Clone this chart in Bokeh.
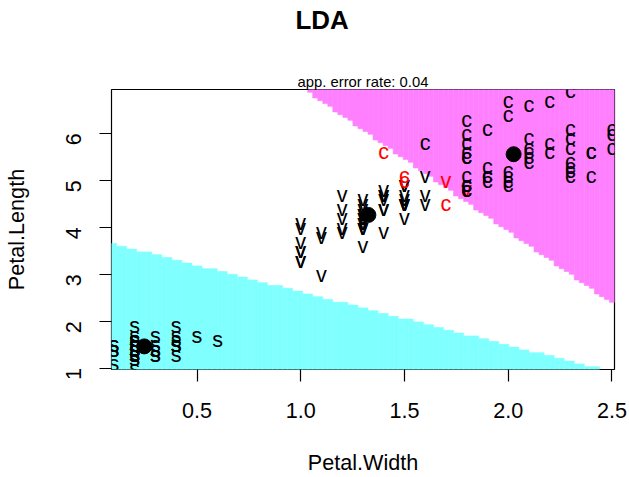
import numpy as np
from math import pi
from bokeh.plotting import figure
from bokeh.models import FixedTicker, Range1d, ColumnDataSource, NumeralTickFormatter, Title
from bokeh.embed import file_html
from bokeh.resources import INLINE
from bokeh.core.properties import value

# ---------------- data (iris petals) ----------------
class_letters = ["s", "v", "c"]
region_colors = ["#80FFFF", "#FFFFFF", "#FF80FF"]

setosa_width = [0.2, 0.2, 0.2, 0.2, 0.2, 0.4, 0.3, 0.2, 0.2, 0.1,
                0.2, 0.2, 0.1, 0.1, 0.2, 0.4, 0.4, 0.3, 0.3, 0.3,
                0.2, 0.4, 0.2, 0.5, 0.2, 0.2, 0.4, 0.2, 0.2, 0.2,
                0.2, 0.4, 0.1, 0.2, 0.2, 0.2, 0.2, 0.1, 0.2, 0.2,
                0.3, 0.3, 0.2, 0.6, 0.4, 0.3, 0.2, 0.2, 0.2, 0.2]
setosa_length = [1.4, 1.4, 1.3, 1.5, 1.4, 1.7, 1.4, 1.5, 1.4, 1.5,
                 1.5, 1.6, 1.4, 1.1, 1.2, 1.5, 1.3, 1.4, 1.7, 1.5,
                 1.7, 1.5, 1.0, 1.7, 1.9, 1.6, 1.6, 1.5, 1.4, 1.6,
                 1.6, 1.5, 1.5, 1.4, 1.5, 1.2, 1.3, 1.4, 1.3, 1.5,
                 1.3, 1.3, 1.3, 1.6, 1.9, 1.4, 1.6, 1.4, 1.5, 1.4]
versicolor_width = [1.4, 1.5, 1.5, 1.3, 1.5, 1.3, 1.6, 1.0, 1.3, 1.4,
                    1.0, 1.5, 1.0, 1.4, 1.3, 1.4, 1.5, 1.0, 1.5, 1.1,
                    1.8, 1.3, 1.5, 1.2, 1.3, 1.4, 1.4, 1.7, 1.5, 1.0,
                    1.1, 1.0, 1.2, 1.6, 1.5, 1.6, 1.5, 1.3, 1.3, 1.3,
                    1.2, 1.4, 1.2, 1.0, 1.3, 1.2, 1.3, 1.3, 1.1, 1.3]
versicolor_length = [4.7, 4.5, 4.9, 4.0, 4.6, 4.5, 4.7, 3.3, 4.6, 3.9,
                     3.5, 4.2, 4.0, 4.7, 3.6, 4.4, 4.5, 4.1, 4.5, 3.9,
                     4.8, 4.0, 4.9, 4.7, 4.3, 4.4, 4.8, 5.0, 4.5, 3.5,
                     3.8, 3.7, 3.9, 5.1, 4.5, 4.5, 4.7, 4.4, 4.1, 4.0,
                     4.4, 4.6, 4.0, 3.3, 4.2, 4.2, 4.2, 4.3, 3.0, 4.1]
virginica_width = [2.5, 1.9, 2.1, 1.8, 2.2, 2.1, 1.7, 1.8, 1.8, 2.5,
                   2.0, 1.9, 2.1, 2.0, 2.4, 2.3, 1.8, 2.2, 2.3, 1.5,
                   2.3, 2.0, 2.0, 1.8, 2.1, 1.8, 1.8, 1.8, 2.1, 1.6,
                   1.9, 2.0, 2.2, 1.5, 1.4, 2.3, 2.4, 1.8, 1.8, 2.1,
                   2.4, 2.3, 1.9, 2.3, 2.5, 2.3, 1.9, 2.0, 2.3, 1.8]
virginica_length = [6.0, 5.1, 5.9, 5.6, 5.8, 6.6, 4.5, 6.3, 5.8, 6.1,
                    5.1, 5.3, 5.5, 5.0, 5.1, 5.3, 5.5, 6.7, 6.9, 5.0,
                    5.7, 4.9, 6.7, 4.9, 5.7, 6.0, 4.8, 4.9, 5.6, 5.8,
                    6.1, 6.4, 5.6, 5.1, 5.6, 6.1, 5.6, 5.5, 4.8, 5.4,
                    5.6, 5.1, 5.1, 5.9, 5.7, 5.2, 5.0, 5.2, 5.4, 5.1]

x_ticks = [0.5, 1.0, 1.5, 2.0, 2.5]
y_ticks = [1, 2, 3, 4, 5, 6]
main_title = "LDA"
sub_title = "app. error rate: 0.04"
x_title = "Petal.Width"
y_title = "Petal.Length"

# ---------------- LDA (pooled covariance, equal priors) ----------------
groups = [(setosa_width, setosa_length),
          (versicolor_width, versicolor_length),
          (virginica_width, virginica_length)]
Xs = [np.column_stack([np.array(w), np.array(l)]) for w, l in groups]
X = np.vstack(Xs)
y = np.concatenate([np.full(len(g), k) for k, g in enumerate(Xs)])
means = np.array([g.mean(axis=0) for g in Xs])
S = sum((g - m).T @ (g - m) for g, m in zip(Xs, means)) / (len(X) - len(Xs))
Sinv = np.linalg.inv(S)
priors = np.array([len(g) for g in Xs]) / len(X)


def predict(P):
    scores = P @ Sinv @ means.T - 0.5 * np.sum(means @ Sinv * means, axis=1) + np.log(priors)
    return np.argmax(scores, axis=1)


pred = predict(X)
wrong = pred != y

prec = 100
xg = np.linspace(X[:, 0].min(), X[:, 0].max(), prec)
yg = np.linspace(X[:, 1].min(), X[:, 1].max(), prec)
dx = xg[1] - xg[0]
dy = yg[1] - yg[0]

ql, qr, qb, qt, qc = [], [], [], [], []
for xi in xg:
    cls = predict(np.column_stack([np.full(prec, xi), yg]))
    j = 0
    while j < prec:
        k = j
        while k + 1 < prec and cls[k + 1] == cls[j]:
            k += 1
        if cls[j] != 1:
            ql.append(xi - dx / 2)
            qr.append(xi + dx / 2)
            qb.append(yg[j] - dy / 2)
            qt.append(yg[k] + dy / 2)
            qc.append(region_colors[cls[j]])
        j = k + 1

# ---------------- figure ----------------
FONT = "Liberation Sans"
p = figure(width=629, height=477, output_backend="svg", toolbar_location=None,
           x_range=Range1d(xg[0] - dx / 2, xg[-1] + dx / 2),
           y_range=Range1d(yg[0] - dy / 2, yg[-1] + dy / 2),
           min_border_left=111, min_border_right=15, min_border_top=89, min_border_bottom=108)
p.xgrid.grid_line_color = None
p.ygrid.grid_line_color = None
p.outline_line_color = "black"
p.outline_line_alpha = 1.0
p.outline_line_width = 1.2
p.background_fill_color = "white"
p.border_fill_color = "white"

# stacked above the frame: subtitle (closest), spacer, main title (outermost)
p.add_layout(Title(text=sub_title, align="center", standoff=0, text_color="black",
                   text_font=FONT, text_font_size="14.8px", text_font_style="normal"), "above")
p.add_layout(Title(text=" ", align="center", standoff=35, text_font=FONT,
                   text_font_size="1px"), "above")
p.title.text = main_title
p.title.align = "left"
p.title.offset = 184
p.title.standoff = 0
p.title.text_font = FONT
p.title.text_font_size = "25.9px"
p.title.text_font_style = "bold"
p.title.text_color = "black"

p.quad(left=ql, right=qr, bottom=qb, top=qt, fill_color=qc, line_color=qc, line_width=0.6)

src = ColumnDataSource(dict(
    x=X[:, 0], y=X[:, 1],
    t=[class_letters[k] for k in y],
    col=["red" if w else "black" for w in wrong]))
p.text(x="x", y="y", text="t", text_color="col", source=src,
       text_font=value(FONT), text_font_size=value("21.6px"),
       text_align="center", text_baseline="middle")
p.scatter(means[:, 0], means[:, 1], size=15, color="black")

for ax in (p.xaxis[0], p.yaxis[0]):
    ax.axis_line_color = None
    ax.major_tick_out = 12
    ax.major_tick_in = 0
    ax.minor_tick_out = 0
    ax.minor_tick_in = 0
    ax.major_tick_line_color = "black"
    ax.major_tick_line_width = 1.2
    ax.major_label_text_font = FONT
    ax.major_label_text_font_size = "21.6px"
    ax.major_label_text_color = "black"
    ax.axis_label_text_font = FONT
    ax.axis_label_text_font_size = "21.6px"
    ax.axis_label_text_font_style = "normal"
    ax.axis_label_text_color = "black"

p.xaxis.ticker = FixedTicker(ticks=x_ticks)
p.xaxis.formatter = NumeralTickFormatter(format="0.0")
p.xaxis.major_label_standoff = 21
p.xaxis.axis_label = x_title
p.xaxis.axis_label_standoff = 29

p.yaxis.ticker = FixedTicker(ticks=y_ticks)
p.yaxis.major_label_orientation = pi / 2
p.yaxis.major_label_standoff = 26
p.yaxis.axis_label = y_title
p.yaxis.axis_label_standoff = 27

open("out.html", "w").write(file_html(p, INLINE))
